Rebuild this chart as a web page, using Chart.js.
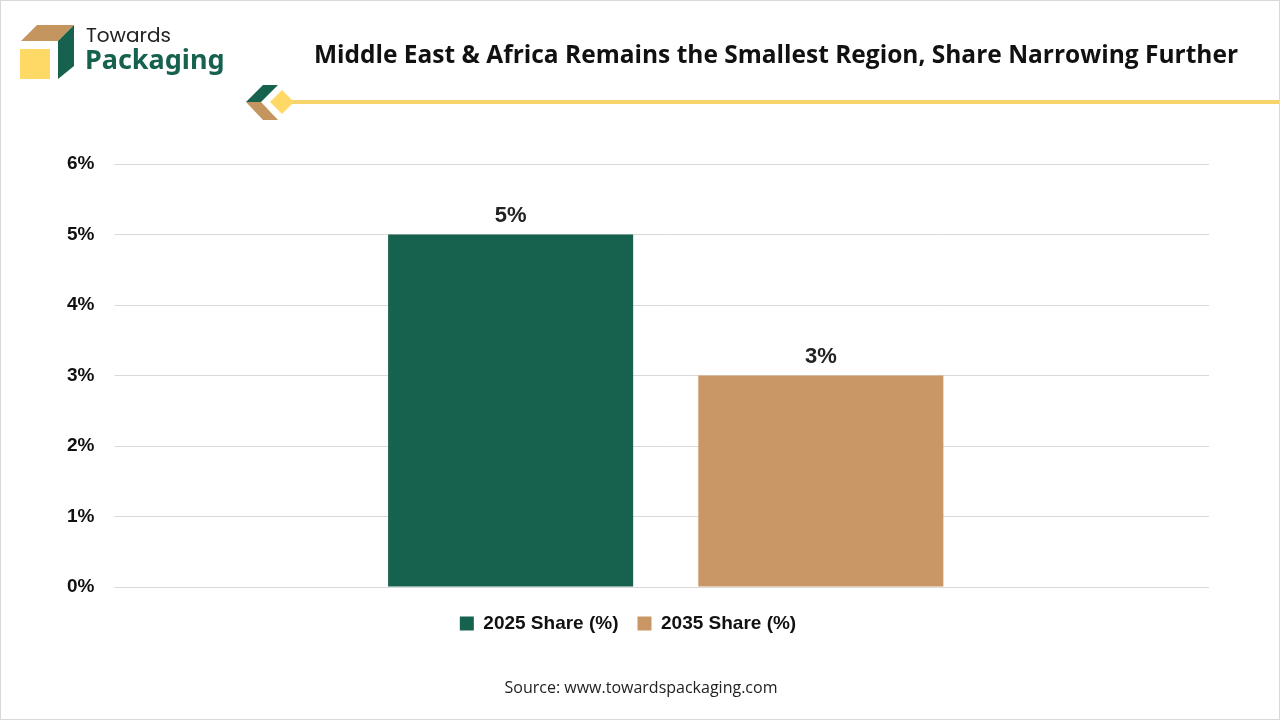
<!DOCTYPE html>
<html>
<head>
<meta charset="utf-8">
<script src="https://cdn.jsdelivr.net/npm/chart.js@4.4.0/dist/chart.umd.min.js"></script>
<style>
  html, body { margin: 0; padding: 0; background: #fff; }
  #page { position: relative; width: 1280px; height: 720px; overflow: hidden; box-sizing: border-box; border: 1px solid #d9d9d9; }
  #chartBox { position: absolute; left: 0; top: 0; width: 1280px; height: 720px; }
  #logo { position: absolute; left: 0; top: 0; }
  .t1 { position: absolute; left: 85px; top: 19px; font: 400 20px "Poppins", "Noto Sans", sans-serif; color: #222; }
  .t2 { position: absolute; left: 84px; top: 39px; font: 700 27px "Noto Sans", sans-serif; color: #17614f; }
  #title { position: absolute; left: 300px; width: 950px; top: 36px; text-align: center; font: 700 24.5px "Open Sans", sans-serif; color: #111; }
  #source { position: absolute; left: 0; width: 1280px; top: 675px; text-align: center; font: 400 16px "Open Sans", sans-serif; color: #222; }
</style>
</head>
<body>
<div id="page">
  <div id="chartBox"><canvas id="chart"></canvas></div>
  <svg id="logo" width="1280" height="130">
    <polygon points="20,40 36,24 73,24 57,40" fill="#c4955f"/>
    <polygon points="57,40 73,24 73,65 57,78" fill="#17614f"/>
    <rect x="19" y="48" width="30" height="30" fill="#ffd966"/>
    <polygon points="245,101 262,84 277,84 260,101" fill="#17614f"/>
    <polygon points="245,101 260,101 277,119 262,119" fill="#c4955f"/>
    <rect x="285" y="99" width="995" height="4" fill="#f6d46a"/>
    <polygon points="281,89 293,101 281,113 269,101" fill="#ffd966"/>
  </svg>
  <div class="t1">Towards</div>
  <div class="t2">Packaging</div>
  <div id="title">Middle East &amp; Africa Remains the Smallest Region, Share Narrowing Further</div>
  <div id="source">Source: www.towardspackaging.com</div>
</div>
<script>
const categories = [""];
const seriesNames = ["2025 Share (%)", "2035 Share (%)"];
const share2025 = [5];
const share2035 = [3];
const yTicks = [0, 1, 2, 3, 4, 5, 6];

const barLabels = {
  id: "barLabels",
  afterDatasetsDraw(chart) {
    const ctx = chart.ctx;
    ctx.save();
    ctx.font = "bold 22px 'Liberation Sans', Arial, sans-serif";
    ctx.fillStyle = "#222";
    ctx.textAlign = "center";
    ctx.textBaseline = "bottom";
    chart.data.datasets.forEach((ds, i) => {
      chart.getDatasetMeta(i).data.forEach((bar, j) => {
        ctx.fillText(ds.data[j] + "%", bar.x, bar.y - 8);
      });
    });
    ctx.restore();
  }
};

new Chart(document.getElementById("chart"), {
  type: "bar",
  data: {
    labels: categories,
    datasets: [
      { label: seriesNames[0], data: share2025, backgroundColor: "#17614f" },
      { label: seriesNames[1], data: share2035, backgroundColor: "#c99766" }
    ]
  },
  options: {
    responsive: true,
    maintainAspectRatio: false,
    animation: false,
    categoryPercentage: 0.571,
    barPercentage: 0.79,
    layout: { padding: { top: 163, left: 46, right: 72, bottom: 78 } },
    plugins: {
      legend: {
        position: "bottom",
        labels: {
          boxWidth: 14, boxHeight: 14, padding: 19, color: "#111",
          font: { family: "'Liberation Sans', Arial, sans-serif", size: 19, weight: "bold" }
        }
      },
      tooltip: { enabled: false }
    },
    scales: {
      x: {
        grid: { display: false },
        border: { display: false },
        ticks: { display: false }
      },
      y: {
        min: 0, max: 6,
        afterBuildTicks(axis) { axis.ticks = yTicks.map(v => ({ value: v })); },
        grid: { color: "#d9d9d9" },
        border: { display: false },
        ticks: {
          padding: 20, color: "#111",
          font: { family: "'Liberation Sans', Arial, sans-serif", size: 19, weight: "bold" },
          callback: v => v + "%"
        }
      }
    }
  },
  plugins: [barLabels]
});
</script>
</body>
</html>
